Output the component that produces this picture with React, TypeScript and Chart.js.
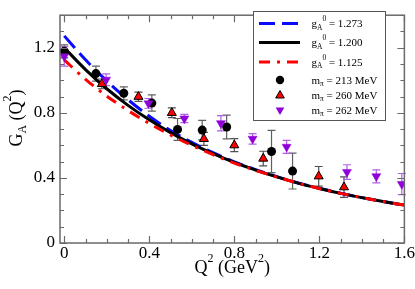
import React, { useEffect, useRef } from 'react';
import { Chart, registerables } from 'chart.js';

Chart.register(...registerables);

const FONT = "'Liberation Serif', 'Times New Roman', Times, serif";

// Axis ticks
const xTicks = [0, 0.4, 0.8, 1.2, 1.6];
const xTickLabels = ['0', '0.4', '0.8', '1.2', '1.6'];
const yTicks = [0, 0.4, 0.8, 1.2];
const yTickLabels = ['0', '0.4', '0.8', '1.2'];

// Fit curves
const curveQ2 = [0, 0.1, 0.2, 0.3, 0.4, 0.5, 0.6, 0.7, 0.8, 0.9, 1.0, 1.1, 1.2, 1.3, 1.4, 1.5, 1.6];
const curve1273 = [1.273, 1.126, 0.996, 0.881, 0.779, 0.692, 0.618, 0.555, 0.499, 0.451, 0.408, 0.369, 0.336, 0.306, 0.279, 0.255, 0.233];
const curve1200 = [1.2, 1.066, 0.948, 0.846, 0.757, 0.678, 0.609, 0.549, 0.495, 0.448, 0.406, 0.368, 0.335, 0.305, 0.279, 0.255, 0.233];
const curve1125 = [1.125, 1.006, 0.903, 0.814, 0.735, 0.664, 0.6, 0.543, 0.491, 0.446, 0.405, 0.368, 0.335, 0.305, 0.279, 0.255, 0.233];

// Lattice data
const m213Q2 = [0, 0.149, 0.28, 0.412, 0.533, 0.649, 0.764, 0.975, 1.074];
const m213GA = [1.178, 1.041, 0.92, 0.86, 0.698, 0.694, 0.713, 0.562, 0.442];
const m213Err = [0.04, 0.046, 0.04, 0.05, 0.067, 0.06, 0.073, 0.13, 0.11];

const m260Q2 = [0.177, 0.349, 0.506, 0.657, 0.8, 0.936, 1.197, 1.316];
const m260GA = [0.978, 0.899, 0.8, 0.64, 0.601, 0.519, 0.41, 0.343];
const m260Err = [0.03, 0.028, 0.03, 0.04, 0.04, 0.045, 0.06, 0.063];

const m262Q2 = [0, 0.197, 0.396, 0.565, 0.737, 0.886, 1.046, 1.33, 1.468, 1.588];
const m262GA = [1.147, 1.003, 0.858, 0.765, 0.736, 0.64, 0.591, 0.436, 0.41, 0.362];
const m262Err = [0.06, 0.036, 0.03, 0.025, 0.047, 0.032, 0.04, 0.045, 0.04, 0.065];

const BLUE = '#0a0aff';
const RED = '#ff0000';
const PURPLE = '#9000d8';
const PURPLE_BAR = '#b060e8';

type Part = { t: string; s: number; dy?: number };

function richWidth(ctx: CanvasRenderingContext2D, parts: Part[]) {
  let w = 0;
  for (const p of parts) {
    ctx.font = `${p.s}px ${FONT}`;
    w += ctx.measureText(p.t).width;
  }
  return w;
}

function drawRich(ctx: CanvasRenderingContext2D, parts: Part[], x: number, y: number, center: boolean) {
  let cx = center ? x - richWidth(ctx, parts) / 2 : x;
  ctx.textBaseline = 'alphabetic';
  ctx.textAlign = 'left';
  for (const p of parts) {
    ctx.font = `${p.s}px ${FONT}`;
    ctx.fillText(p.t, cx, y + (p.dy || 0));
    cx += ctx.measureText(p.t).width;
  }
}

function toXY(xs: number[], ys: number[]) {
  return xs.map((x, i) => ({ x, y: ys[i] }));
}

const errorBarPlugin = {
  id: 'errorBars',
  beforeDatasetsDraw(chart: any) {
    const ctx = chart.ctx as CanvasRenderingContext2D;
    const xs = chart.scales.x;
    const ys = chart.scales.y;
    const sets = [
      { q: m213Q2, g: m213GA, e: m213Err, c: '#606060' },
      { q: m260Q2, g: m260GA, e: m260Err, c: '#505050' },
      { q: m262Q2, g: m262GA, e: m262Err, c: PURPLE_BAR },
    ];
    ctx.save();
    ctx.lineWidth = 1.2;
    for (const s of sets) {
      ctx.strokeStyle = s.c;
      s.q.forEach((q, i) => {
        const px = xs.getPixelForValue(q);
        const top = ys.getPixelForValue(s.g[i] + s.e[i]);
        const bot = ys.getPixelForValue(s.g[i] - s.e[i]);
        ctx.beginPath();
        ctx.moveTo(px, top);
        ctx.lineTo(px, bot);
        ctx.moveTo(px - 4, top);
        ctx.lineTo(px + 4, top);
        ctx.moveTo(px - 4, bot);
        ctx.lineTo(px + 4, bot);
        ctx.stroke();
      });
    }
    ctx.restore();
  },
};

const frameAndDecorPlugin = {
  id: 'frameDecor',
  afterDraw(chart: any) {
    const ctx = chart.ctx as CanvasRenderingContext2D;
    const a = chart.chartArea;
    const xs = chart.scales.x;
    const ys = chart.scales.y;
    ctx.save();
    // frame
    ctx.strokeStyle = '#6a6a6a';
    ctx.lineWidth = 1.5;
    ctx.strokeRect(a.left, a.top, a.right - a.left, a.bottom - a.top);
    // ticks inside
    ctx.lineWidth = 1.2;
    ctx.beginPath();
    for (let k = 0; k <= 16; k++) {
      const v = k / 10;
      const px = Math.round(xs.getPixelForValue(v)) + 0.5;
      const len = k % 4 === 0 ? 7 : 4;
      ctx.moveTo(px, a.bottom);
      ctx.lineTo(px, a.bottom - len);
      ctx.moveTo(px, a.top);
      ctx.lineTo(px, a.top + len);
    }
    for (let k = 0; k <= 14; k++) {
      const v = k / 10;
      const py = Math.round(ys.getPixelForValue(v)) + 0.5;
      const len = k % 4 === 0 ? 7 : 4;
      ctx.moveTo(a.left, py);
      ctx.lineTo(a.left + len, py);
      ctx.moveTo(a.right, py);
      ctx.lineTo(a.right - len, py);
    }
    ctx.stroke();

    // axis titles
    ctx.fillStyle = '#000';
    drawRich(
      ctx,
      [
        { t: 'Q', s: 18 },
        { t: '2', s: 12, dy: -11 },
        { t: ' (GeV', s: 18 },
        { t: '2', s: 12, dy: -11 },
        { t: ')', s: 18 },
      ],
      (a.left + a.right) / 2,
      273,
      true
    );
    ctx.save();
    ctx.translate(21.5, 118);
    ctx.rotate(-Math.PI / 2);
    drawRich(
      ctx,
      [
        { t: 'G', s: 18 },
        { t: 'A', s: 12, dy: 4 },
        { t: ' (Q', s: 18 },
        { t: '2', s: 12, dy: -11 },
        { t: ')', s: 18 },
      ],
      0,
      0,
      true
    );
    ctx.restore();

    // legend
    const bx = 253.5, by = 11.5, bw = 132, bh = 109;
    ctx.fillStyle = '#fff';
    ctx.fillRect(bx, by, bw, bh);
    ctx.strokeStyle = '#555';
    ctx.lineWidth = 1;
    ctx.strokeRect(bx, by, bw, bh);

    const lx0 = 259, lx1 = 300, tx = 311.5;
    const lineRows = [
      { y: 23.5, c: BLUE, d: [16, 7], label: '1.273' },
      { y: 42.5, c: '#000', d: [], label: '1.200' },
      { y: 62, c: RED, d: [11, 7, 3, 7], label: '1.125' },
    ];
    for (const r of lineRows) {
      ctx.strokeStyle = r.c;
      ctx.lineWidth = 3;
      ctx.setLineDash(r.d);
      ctx.beginPath();
      ctx.moveTo(lx0, r.y);
      ctx.lineTo(lx1, r.y);
      ctx.stroke();
      ctx.setLineDash([]);
      ctx.fillStyle = '#000';
      drawRich(
        ctx,
        [
          { t: 'g', s: 11 },
          { t: 'A', s: 7.5, dy: 2.5 },
          { t: '0', s: 7.5, dy: -6 },
          { t: ' = ' + r.label, s: 11 },
        ],
        tx,
        r.y + 3.5,
        false
      );
    }
    const mx = 280;
    ctx.fillStyle = '#000';
    ctx.beginPath();
    ctx.arc(mx, 80, 4.2, 0, Math.PI * 2);
    ctx.fill();
    const tri = (cx: number, cy: number, r: number, down: boolean) => {
      const s = down ? -1 : 1;
      ctx.beginPath();
      ctx.moveTo(cx, cy - s * r);
      ctx.lineTo(cx + r * 0.866, cy + s * r * 0.5);
      ctx.lineTo(cx - r * 0.866, cy + s * r * 0.5);
      ctx.closePath();
    };
    tri(mx, 95.5, 5, false);
    ctx.fillStyle = RED;
    ctx.fill();
    ctx.strokeStyle = '#000';
    ctx.lineWidth = 1;
    ctx.stroke();
    tri(mx, 110, 5, true);
    ctx.fillStyle = PURPLE;
    ctx.fill();

    ctx.fillStyle = '#000';
    const mRows = [
      { y: 80, label: '213 MeV' },
      { y: 95, label: '260 MeV' },
      { y: 110, label: '262 MeV' },
    ];
    for (const r of mRows) {
      drawRich(
        ctx,
        [
          { t: 'm', s: 11 },
          { t: 'π', s: 7.5, dy: 2.5 },
          { t: ' = ' + r.label, s: 11 },
        ],
        tx,
        r.y + 3.5,
        false
      );
    }
    ctx.restore();
  },
};

export default function App() {
  const ref = useRef<HTMLCanvasElement | null>(null);

  useEffect(() => {
    document.body.style.margin = '0';
    const canvas = ref.current;
    if (!canvas) return;
    const chart = new Chart(canvas, {
      type: 'scatter',
      data: {
        datasets: [
          {
            label: 'm262',
            data: toXY(m262Q2, m262GA),
            pointStyle: 'triangle',
            rotation: 180,
            pointRadius: 5.2,
            backgroundColor: PURPLE,
            borderColor: PURPLE,
            borderWidth: 0.5,
            showLine: false,
            order: 0,
          },
          {
            label: 'm260',
            data: toXY(m260Q2, m260GA),
            pointStyle: 'triangle',
            pointRadius: 5.2,
            backgroundColor: RED,
            borderColor: '#000',
            borderWidth: 1,
            showLine: false,
            order: 1,
          },
          {
            label: 'm213',
            data: toXY(m213Q2, m213GA),
            pointStyle: 'circle',
            pointRadius: 4.5,
            backgroundColor: '#000',
            borderColor: '#000',
            borderWidth: 0,
            showLine: false,
            order: 2,
          },
          {
            label: 'g1125',
            data: toXY(curveQ2, curve1125),
            showLine: true,
            borderColor: RED,
            borderWidth: 3,
            borderDash: [11, 7, 3, 7],
            pointRadius: 0,
            cubicInterpolationMode: 'monotone',
            order: 3,
          },
          {
            label: 'g1200',
            data: toXY(curveQ2, curve1200),
            showLine: true,
            borderColor: '#000',
            borderWidth: 3,
            pointRadius: 0,
            cubicInterpolationMode: 'monotone',
            order: 4,
          },
          {
            label: 'g1273',
            data: toXY(curveQ2, curve1273),
            showLine: true,
            borderColor: BLUE,
            borderWidth: 3,
            borderDash: [16, 7],
            pointRadius: 0,
            cubicInterpolationMode: 'monotone',
            order: 5,
          },
        ],
      },
      options: {
        responsive: false,
        animation: false,
        layout: { padding: { left: 0, right: 9, top: 2, bottom: 0 } },
        plugins: { legend: { display: false }, tooltip: { enabled: false } },
        scales: {
          x: {
            type: 'linear',
            min: -0.02,
            max: 1.6,
            grid: { display: false, drawTicks: false },
            border: { display: false },
            afterBuildTicks: (s: any) => {
              s.ticks = xTicks.map((v) => ({ value: v }));
            },
            afterFit: (s: any) => {
              s.height = 46;
            },
            ticks: {
              callback: (_v: any, i: number) => xTickLabels[i],
              font: { family: FONT, size: 17 },
              color: '#000',
              padding: 0,
              maxRotation: 0,
              autoSkip: false,
            },
          },
          y: {
            type: 'linear',
            min: 0,
            max: 1.4,
            grid: { display: false, drawTicks: false },
            border: { display: false },
            afterBuildTicks: (s: any) => {
              s.ticks = yTicks.map((v) => ({ value: v }));
            },
            afterFit: (s: any) => {
              s.width = 60;
            },
            ticks: {
              callback: (_v: any, i: number) => yTickLabels[i],
              font: { family: FONT, size: 17 },
              color: '#000',
              padding: 5,
              autoSkip: false,
            },
          },
        },
      },
      plugins: [errorBarPlugin, frameAndDecorPlugin],
    } as any);
    return () => chart.destroy();
  }, []);

  return (
    <div style={{ width: 415, height: 289 }}>
      <canvas ref={ref} width={415} height={289} style={{ display: 'block' }} />
    </div>
  );
}
